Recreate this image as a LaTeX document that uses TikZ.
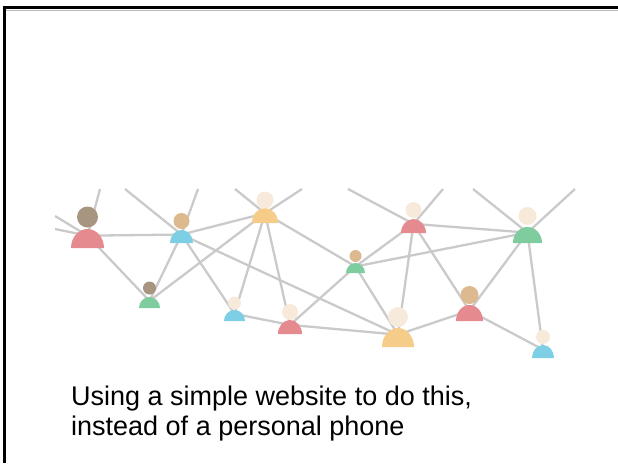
\documentclass[tikz,border=0pt]{standalone}
\usepackage{fontspec}
\setmainfont{Liberation Sans}
\usetikzlibrary{backgrounds}

\definecolor{linkgray}{HTML}{CACACA}
\definecolor{bodypink}{HTML}{E58A8F}
\definecolor{bodyblue}{HTML}{7DCFE6}
\definecolor{bodyyellow}{HTML}{F6CD88}
\definecolor{bodygreen}{HTML}{7FCC9E}
\definecolor{headdark}{HTML}{A8957F}
\definecolor{headtan}{HTML}{DDB98F}
\definecolor{headcream}{HTML}{F8EADA}

\tikzset{
  link/.style={draw=linkgray, line width=2.3pt},
  headdot/.style={circle, inner sep=0pt, outer sep=0pt},
  caption/.style={anchor=base west, inner sep=0pt, font=\fontsize{27pt}{30pt}\selectfont},
}

% person icon: #1 name, #2 x, #3 head y, #4 head radius, #5 body half width,
% #6 body top, #7 body bottom, #8 body colour, #9 head colour
\newcommand\persona[9]{%
  \pgfmathsetmacro\bodyh{#7-#6}%
  \pgfmathsetmacro\headd{2*#4}%
  \pgfmathsetmacro\neck{#6+0.35*(#7-#6)}%
  \coordinate (#1) at (#2,\neck);
  \fill[#8] ({#2-#5},#7) arc[start angle=180, end angle=0, x radius=#5pt, y radius=\bodyh pt] -- cycle;
  \node[headdot, fill=#9, minimum size=\headd pt] (#1-head) at (#2,#3) {};
}

\begin{document}
\begin{tikzpicture}[x=1pt, y=-1pt]
\useasboundingbox (0,0) rectangle (618,463);

% slide frame (top and left edges)
\draw[gray!55, line width=1pt] (6,10) -- (618,10);
\draw[black, line width=3pt] (4.5,463) -- (4.5,7.5) -- (618,7.5);

% people
\persona{A}{87.5}{217}{10.5}{16.5}{229}{248}{bodypink}{headdark}
\persona{B}{181.5}{221}{8}{11.5}{230}{243}{bodyblue}{headtan}
\persona{C}{265}{200}{8.5}{13}{208}{223}{bodyyellow}{headcream}
\persona{D}{149.5}{288}{6.5}{10.5}{297}{308}{bodygreen}{headdark}
\persona{E}{234.5}{303}{6.5}{10.5}{310}{321}{bodyblue}{headcream}
\persona{F}{290}{312}{8}{12}{320}{334}{bodypink}{headcream}
\persona{G}{413.5}{210}{8}{12.5}{219}{233}{bodypink}{headcream}
\persona{H}{355.5}{256}{6}{9.5}{263}{273}{bodygreen}{headtan}
\persona{I}{527.5}{216}{9}{14.5}{227}{243}{bodygreen}{headcream}
\persona{J}{398}{317}{10}{16}{328}{347}{bodyyellow}{headcream}
\persona{K}{469.5}{295}{9}{13.5}{305}{321}{bodypink}{headtan}
\persona{L}{543}{337}{7}{11}{345}{358}{bodyblue}{headcream}

% loose ends of links leaving the cropped network
\coordinate (tA) at (100,189);
\coordinate (lA1) at (55,216);
\coordinate (lA2) at (55,229);
\coordinate (tB1) at (125,189);
\coordinate (tB2) at (198,189);
\coordinate (tC1) at (235,189);
\coordinate (tC2) at (302,189);
\coordinate (tG1) at (348,189);
\coordinate (tG2) at (443,189);
\coordinate (tI1) at (473,189);
\coordinate (tI2) at (575,189);

% links between people
\begin{scope}[on background layer]
\draw[link] (tA) -- (A);
\draw[link] (lA1) -- (A);
\draw[link] (lA2) -- (A);
\draw[link] (tB1) -- (B);
\draw[link] (tB2) -- (B);
\draw[link] (tC1) -- (C);
\draw[link] (tC2) -- (C);
\draw[link] (tG1) -- (G);
\draw[link] (tG2) -- (G);
\draw[link] (tI1) -- (I);
\draw[link] (tI2) -- (I);
\draw[link] (A) -- (B);
\draw[link] (A) -- (D);
\draw[link] (B) -- (D);
\draw[link] (B) -- (C);
\draw[link] (B) -- (E);
\draw[link] (B) -- (J);
\draw[link] (C) -- (D);
\draw[link] (C) -- (E);
\draw[link] (C) -- (F);
\draw[link] (C) -- (H);
\draw[link] (E) -- (F);
\draw[link] (F) -- (H);
\draw[link] (F) -- (J);
\draw[link] (G) -- (I);
\draw[link] (G) -- (H);
\draw[link] (H) -- (I);
\draw[link] (G) -- (J);
\draw[link] (G) -- (K);
\draw[link] (H) -- (J);
\draw[link] (I) -- (K);
\draw[link] (I) -- (L);
\draw[link] (J) -- (K);
\draw[link] (K) -- (L);
\end{scope}

% caption
\node[caption] (cap1) at (71,405) {Using a simple website to do this,};
\node[caption] (cap2) at (71,435) {instead of a personal phone};
\end{tikzpicture}
\end{document}
